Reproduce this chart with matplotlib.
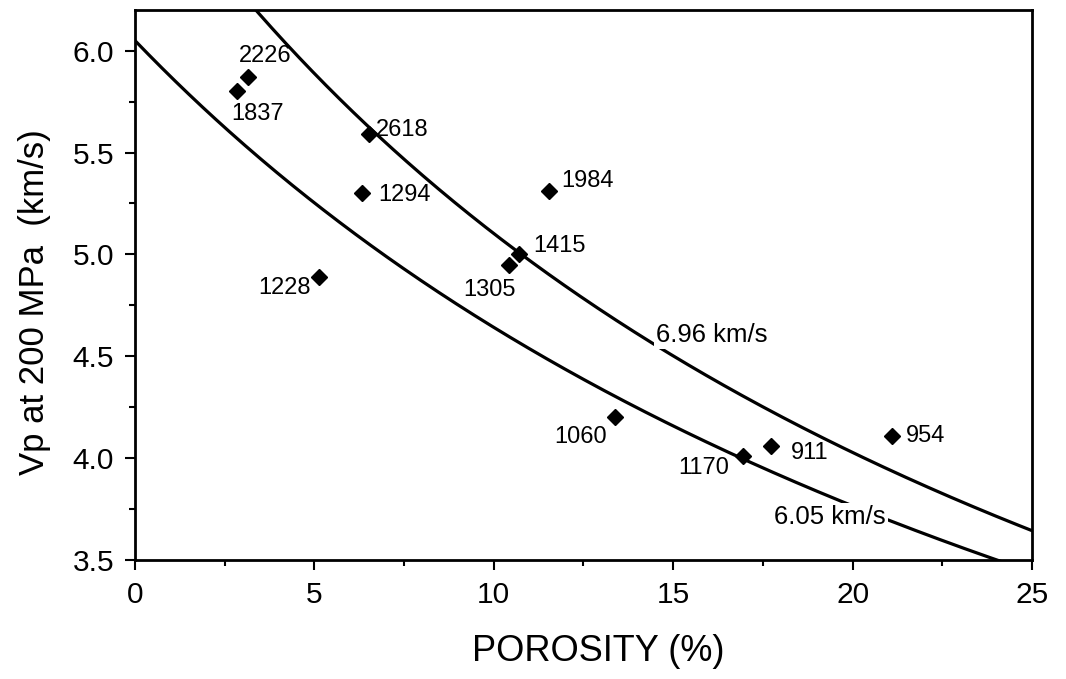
import numpy as np
import matplotlib

matplotlib.use("Agg")
import matplotlib.pyplot as plt
from matplotlib.ticker import MultipleLocator, FormatStrFormatter

plt.rcParams["font.family"] = ["Liberation Sans", "DejaVu Sans"]

# measured samples: porosity (%) and Vp at 200 MPa (km/s)
sample_ids = ["1837", "2226", "2618", "1294", "1984", "1415",
              "1305", "1228", "1060", "1170", "911", "954"]
porosity = [2.84, 3.15, 6.52, 6.33, 11.54, 10.70,
            10.42, 5.13, 13.38, 16.95, 17.73, 21.10]
vp = [5.80, 5.87, 5.59, 5.30, 5.31, 5.00,
      4.95, 4.89, 4.20, 4.01, 4.06, 4.11]

# time-average model curves: matrix velocities (km/s) and pore-fluid velocity
matrix_vp = [6.96, 6.05]
fluid_vp = 1.5

# label placement, pixel offsets from each point and alignment
label_offsets = {
    "1837": (21, -23, "center"), "2226": (17, 21, "center"),
    "2618": (7, 4, "left"), "1294": (16, -2, "left"),
    "1984": (12, 10, "left"), "1415": (14, 8, "left"),
    "1305": (-19, -25, "center"), "1228": (-35, -11, "center"),
    "1060": (-34, -20, "center"), "1170": (-39, -12, "center"),
    "911": (39, -7, "center"), "954": (14, 0, "left"),
}
curve_label_pos = {6.96: (16.08, 4.605), 6.05: (19.37, 3.71)}


def wyllie(phi_pct, vm, vf):
    phi = np.asarray(phi_pct) / 100.0
    return 1.0 / ((1.0 - phi) / vm + phi / vf)


fig = plt.figure(figsize=(10.66, 6.79), dpi=100)
ax = fig.add_axes([0.1266, 0.1753, 0.8415, 0.8100])

phi_grid = np.linspace(0, 25, 400)
for vm in matrix_vp:
    ax.plot(phi_grid, wyllie(phi_grid, vm, fluid_vp), color="black", lw=2.3, zorder=2)
    lx, ly = curve_label_pos[vm]
    ax.text(lx, ly, f"{vm:.2f} km/s", fontsize=18.5, ha="center", va="center", zorder=3,
            bbox=dict(boxstyle="square,pad=0.08", facecolor="white", edgecolor="none"))

ax.plot(porosity, vp, linestyle="none", marker="D", markersize=8.5,
        color="black", zorder=4)
for sid, x, y in zip(sample_ids, porosity, vp):
    dx, dy, ha = label_offsets[sid]
    ax.annotate(sid, (x, y), xytext=(dx, dy), textcoords="offset pixels",
                ha=ha, va="center", fontsize=17, zorder=5)

ax.set_xlim(0, 25)
ax.set_ylim(3.5, 6.2)
ax.xaxis.set_major_locator(MultipleLocator(5))
ax.xaxis.set_minor_locator(MultipleLocator(2.5))
ax.yaxis.set_major_locator(MultipleLocator(0.5))
ax.yaxis.set_minor_locator(MultipleLocator(0.25))
ax.yaxis.set_major_formatter(FormatStrFormatter("%.1f"))
ax.tick_params(which="both", direction="out", top=False, right=False,
               width=1.5, labelsize=21.5, pad=8)
ax.tick_params(which="major", length=7)
ax.tick_params(which="minor", length=4)
for spine in ax.spines.values():
    spine.set_linewidth(2.0)

ax.set_xlabel("POROSITY (%)", fontsize=26)
ax.set_ylabel("Vp at 200 MPa  (km/s)", fontsize=25)
ax.xaxis.set_label_coords(0.517, -0.135)
ax.yaxis.set_label_coords(-0.094, 0.468)

fig.savefig("out.png", dpi=100)
